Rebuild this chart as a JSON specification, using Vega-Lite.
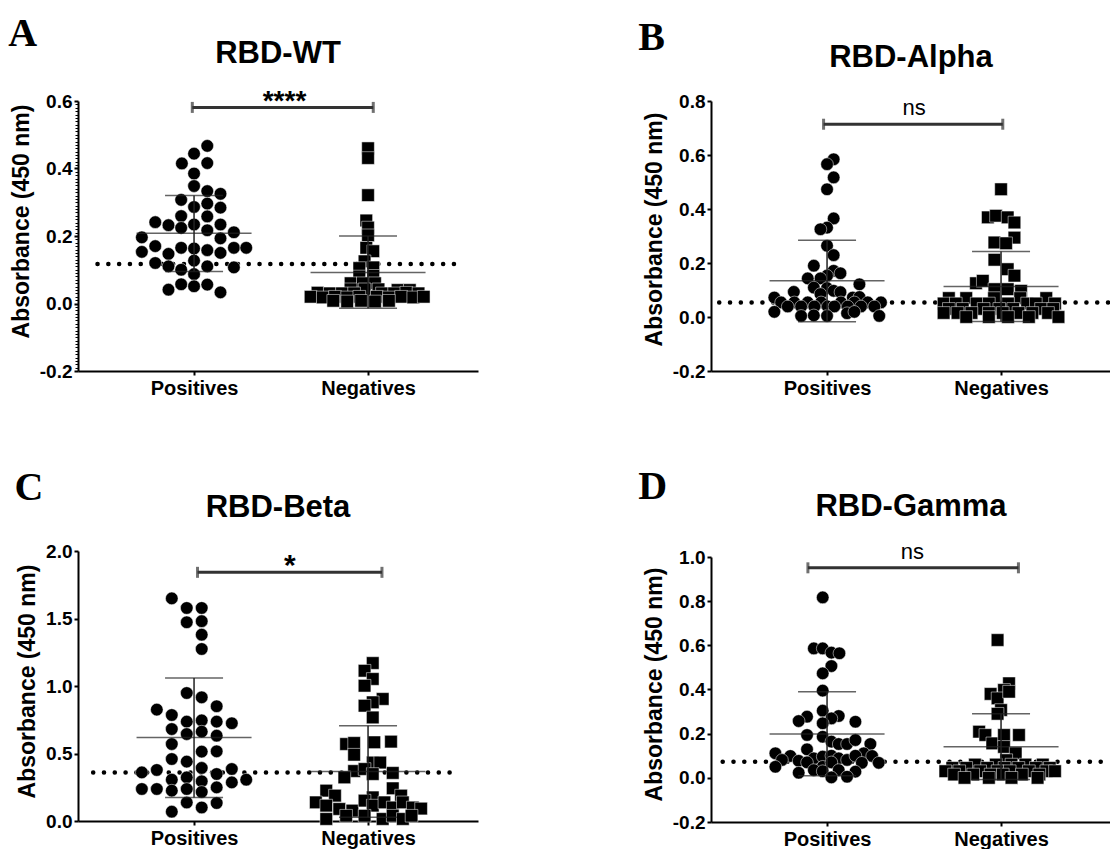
{
"$schema":"https://vega.github.io/schema/vega-lite/v6.json",
"background":"white",
"padding":{"top":14,"left":8,"right":0,"bottom":0},
"config":{"view":{"stroke":null},
"axis":{"domainColor":"black","domainWidth":2,"tickColor":"black","tickWidth":2,"tickSize":4,"labelFont":"Liberation Sans","labelFontSize":19,"labelFontWeight":"bold","labelColor":"black","titleFont":"Liberation Sans","titleFontSize":23,"titleFontWeight":"bold","titleColor":"black","grid":false,"labelPadding":2,"titlePadding":6,"labelFlush":false},
"axisX":{"labelPadding":3,"labelFontSize":20}},
"datasets":{
"pts":[
{"p":"A","g":"P","x":1.076,"y":0.467},{"p":"A","g":"P","x":1.0,"y":0.444},{"p":"A","g":"P","x":0.93,"y":0.415},{"p":"A","g":"P","x":1.076,"y":0.416},{"p":"A","g":"P","x":1.0,"y":0.385},{"p":"A","g":"P","x":1.0,"y":0.348},{"p":"A","g":"P","x":1.076,"y":0.333},{"p":"A","g":"P","x":1.152,"y":0.325},{"p":"A","g":"P","x":0.926,"y":0.307},{"p":"A","g":"P","x":1.076,"y":0.296},{"p":"A","g":"P","x":1.0,"y":0.286},{"p":"A","g":"P","x":1.152,"y":0.284},{"p":"A","g":"P","x":0.926,"y":0.259},{"p":"A","g":"P","x":1.076,"y":0.258},{"p":"A","g":"P","x":0.777,"y":0.241},{"p":"A","g":"P","x":0.853,"y":0.232},{"p":"A","g":"P","x":0.926,"y":0.224},{"p":"A","g":"P","x":1.0,"y":0.234},{"p":"A","g":"P","x":1.152,"y":0.234},{"p":"A","g":"P","x":1.076,"y":0.217},{"p":"A","g":"P","x":1.229,"y":0.211},{"p":"A","g":"P","x":0.70,"y":0.196},{"p":"A","g":"P","x":1.152,"y":0.193},{"p":"A","g":"P","x":0.777,"y":0.170},{"p":"A","g":"P","x":0.926,"y":0.165},{"p":"A","g":"P","x":1.0,"y":0.163},{"p":"A","g":"P","x":1.076,"y":0.158},{"p":"A","g":"P","x":1.229,"y":0.165},{"p":"A","g":"P","x":1.30,"y":0.165},{"p":"A","g":"P","x":0.70,"y":0.153},{"p":"A","g":"P","x":0.853,"y":0.147},{"p":"A","g":"P","x":1.152,"y":0.150},{"p":"A","g":"P","x":1.0,"y":0.127},{"p":"A","g":"P","x":0.777,"y":0.120},{"p":"A","g":"P","x":0.853,"y":0.110},{"p":"A","g":"P","x":1.076,"y":0.110},{"p":"A","g":"P","x":1.229,"y":0.107},{"p":"A","g":"P","x":0.926,"y":0.100},{"p":"A","g":"P","x":1.0,"y":0.087},{"p":"A","g":"P","x":0.926,"y":0.057},{"p":"A","g":"P","x":1.0,"y":0.051},{"p":"A","g":"P","x":1.076,"y":0.056},{"p":"A","g":"P","x":0.853,"y":0.041},{"p":"A","g":"P","x":1.152,"y":0.033},
{"p":"A","g":"N","x":2.0,"y":0.46},{"p":"A","g":"N","x":2.0,"y":0.431},{"p":"A","g":"N","x":2.0,"y":0.321},{"p":"A","g":"N","x":1.99,"y":0.246},{"p":"A","g":"N","x":2.0,"y":0.225},{"p":"A","g":"N","x":2.0,"y":0.202},{"p":"A","g":"N","x":1.99,"y":0.165},{"p":"A","g":"N","x":2.03,"y":0.155},{"p":"A","g":"N","x":1.98,"y":0.125},{"p":"A","g":"N","x":1.95,"y":0.105},{"p":"A","g":"N","x":2.03,"y":0.107},{"p":"A","g":"N","x":1.95,"y":0.08},{"p":"A","g":"N","x":2.03,"y":0.082},{"p":"A","g":"N","x":1.9,"y":0.06},{"p":"A","g":"N","x":1.97,"y":0.06},{"p":"A","g":"N","x":2.04,"y":0.06},
{"p":"A","g":"N","x":1.90,"y":0.042},{"p":"A","g":"N","x":1.98,"y":0.042},{"p":"A","g":"N","x":2.06,"y":0.042},{"p":"A","g":"N","x":2.17,"y":0.04},{"p":"A","g":"N","x":2.24,"y":0.04},
{"p":"A","g":"N","x":1.71,"y":0.032},{"p":"A","g":"N","x":1.78,"y":0.03},{"p":"A","g":"N","x":1.85,"y":0.03},{"p":"A","g":"N","x":1.92,"y":0.03},{"p":"A","g":"N","x":2.08,"y":0.03},{"p":"A","g":"N","x":2.15,"y":0.03},{"p":"A","g":"N","x":2.22,"y":0.032},{"p":"A","g":"N","x":2.29,"y":0.03},
{"p":"A","g":"N","x":1.67,"y":0.02},{"p":"A","g":"N","x":1.74,"y":0.018},{"p":"A","g":"N","x":1.81,"y":0.02},{"p":"A","g":"N","x":1.88,"y":0.018},{"p":"A","g":"N","x":1.95,"y":0.02},{"p":"A","g":"N","x":2.05,"y":0.02},{"p":"A","g":"N","x":2.12,"y":0.018},{"p":"A","g":"N","x":2.19,"y":0.02},{"p":"A","g":"N","x":2.26,"y":0.018},{"p":"A","g":"N","x":2.32,"y":0.02},
{"p":"A","g":"N","x":1.80,"y":0.008},{"p":"A","g":"N","x":1.88,"y":0.006},{"p":"A","g":"N","x":1.96,"y":0.008},{"p":"A","g":"N","x":2.04,"y":0.006},{"p":"A","g":"N","x":2.12,"y":0.008},
{"p":"B","g":"P","x":1.038,"y":0.584},{"p":"B","g":"P","x":1.0,"y":0.566},{"p":"B","g":"P","x":1.038,"y":0.517},{"p":"B","g":"P","x":1.0,"y":0.473},{"p":"B","g":"P","x":1.038,"y":0.365},{"p":"B","g":"P","x":1.0,"y":0.331},{"p":"B","g":"P","x":0.962,"y":0.325},{"p":"B","g":"P","x":1.0,"y":0.264},{"p":"B","g":"P","x":1.038,"y":0.229},{"p":"B","g":"P","x":0.924,"y":0.19},{"p":"B","g":"P","x":1.038,"y":0.171},{"p":"B","g":"P","x":1.077,"y":0.162},{"p":"B","g":"P","x":1.0,"y":0.153},{"p":"B","g":"P","x":0.962,"y":0.143},{"p":"B","g":"P","x":0.889,"y":0.143},{"p":"B","g":"P","x":1.186,"y":0.121},{"p":"B","g":"P","x":0.809,"y":0.093},{"p":"B","g":"P","x":0.924,"y":0.109},{"p":"B","g":"P","x":1.0,"y":0.107},{"p":"B","g":"P","x":1.038,"y":0.097},{"p":"B","g":"P","x":1.077,"y":0.092},{"p":"B","g":"P","x":0.962,"y":0.085},{"p":"B","g":"P","x":1.148,"y":0.072},{"p":"B","g":"P","x":0.697,"y":0.072},{"p":"B","g":"P","x":1.186,"y":0.074},
{"p":"B","g":"P","x":0.736,"y":0.054},{"p":"B","g":"P","x":0.812,"y":0.054},{"p":"B","g":"P","x":0.889,"y":0.054},{"p":"B","g":"P","x":0.966,"y":0.054},{"p":"B","g":"P","x":1.08,"y":0.054},{"p":"B","g":"P","x":1.157,"y":0.054},{"p":"B","g":"P","x":1.234,"y":0.054},{"p":"B","g":"P","x":1.31,"y":0.054},
{"p":"B","g":"P","x":0.774,"y":0.039},{"p":"B","g":"P","x":0.851,"y":0.039},{"p":"B","g":"P","x":0.927,"y":0.039},{"p":"B","g":"P","x":1.004,"y":0.039},{"p":"B","g":"P","x":1.042,"y":0.039},{"p":"B","g":"P","x":1.119,"y":0.039},{"p":"B","g":"P","x":1.195,"y":0.039},{"p":"B","g":"P","x":1.272,"y":0.039},
{"p":"B","g":"P","x":0.697,"y":0.019},{"p":"B","g":"P","x":0.851,"y":0.004},{"p":"B","g":"P","x":0.924,"y":0.006},{"p":"B","g":"P","x":1.0,"y":0.004},{"p":"B","g":"P","x":1.115,"y":0.014},{"p":"B","g":"P","x":1.157,"y":0.019},{"p":"B","g":"P","x":1.30,"y":0.004},
{"p":"B","g":"N","x":2.0,"y":0.473},{"p":"B","g":"N","x":1.924,"y":0.369},{"p":"B","g":"N","x":1.971,"y":0.375},{"p":"B","g":"N","x":2.038,"y":0.369},{"p":"B","g":"N","x":2.077,"y":0.35},{"p":"B","g":"N","x":2.077,"y":0.294},{"p":"B","g":"N","x":1.962,"y":0.276},{"p":"B","g":"N","x":2.029,"y":0.273},{"p":"B","g":"N","x":1.962,"y":0.212},{"p":"B","g":"N","x":2.038,"y":0.177},{"p":"B","g":"N","x":2.077,"y":0.153},{"p":"B","g":"N","x":1.856,"y":0.125},{"p":"B","g":"N","x":1.895,"y":0.134},{"p":"B","g":"N","x":1.962,"y":0.103},{"p":"B","g":"N","x":2.038,"y":0.103},{"p":"B","g":"N","x":2.115,"y":0.097},
{"p":"B","g":"N","x":1.70,"y":0.07},{"p":"B","g":"N","x":1.80,"y":0.07},{"p":"B","g":"N","x":1.96,"y":0.07},{"p":"B","g":"N","x":2.11,"y":0.07},{"p":"B","g":"N","x":2.26,"y":0.07},
{"p":"B","g":"N","x":1.67,"y":0.05},{"p":"B","g":"N","x":1.74,"y":0.05},{"p":"B","g":"N","x":1.86,"y":0.05},{"p":"B","g":"N","x":1.93,"y":0.05},{"p":"B","g":"N","x":2.04,"y":0.05},{"p":"B","g":"N","x":2.15,"y":0.05},{"p":"B","g":"N","x":2.20,"y":0.05},{"p":"B","g":"N","x":2.31,"y":0.05},
{"p":"B","g":"N","x":1.70,"y":0.03},{"p":"B","g":"N","x":1.78,"y":0.03},{"p":"B","g":"N","x":1.90,"y":0.03},{"p":"B","g":"N","x":1.99,"y":0.03},{"p":"B","g":"N","x":2.07,"y":0.03},{"p":"B","g":"N","x":2.23,"y":0.03},{"p":"B","g":"N","x":2.30,"y":0.03},
{"p":"B","g":"N","x":1.67,"y":0.015},{"p":"B","g":"N","x":1.75,"y":0.015},{"p":"B","g":"N","x":1.83,"y":0.015},{"p":"B","g":"N","x":1.93,"y":0.015},{"p":"B","g":"N","x":2.01,"y":0.015},{"p":"B","g":"N","x":2.10,"y":0.015},{"p":"B","g":"N","x":2.18,"y":0.015},{"p":"B","g":"N","x":2.27,"y":0.015},
{"p":"B","g":"N","x":1.80,"y":0.0},{"p":"B","g":"N","x":1.93,"y":0.0},{"p":"B","g":"N","x":2.04,"y":0.0},{"p":"B","g":"N","x":2.16,"y":0.0},{"p":"B","g":"N","x":2.33,"y":0.0},
{"p":"C","g":"P","x":0.872,"y":1.649},{"p":"C","g":"P","x":0.958,"y":1.578},{"p":"C","g":"P","x":1.044,"y":1.578},{"p":"C","g":"P","x":0.958,"y":1.472},{"p":"C","g":"P","x":1.044,"y":1.48},{"p":"C","g":"P","x":1.044,"y":1.38},{"p":"C","g":"P","x":1.044,"y":1.274},{"p":"C","g":"P","x":0.958,"y":0.948},{"p":"C","g":"P","x":1.044,"y":0.916},{"p":"C","g":"P","x":0.786,"y":0.825},{"p":"C","g":"P","x":1.13,"y":0.85},{"p":"C","g":"P","x":0.872,"y":0.785},{"p":"C","g":"P","x":0.958,"y":0.736},{"p":"C","g":"P","x":1.044,"y":0.745},{"p":"C","g":"P","x":1.13,"y":0.736},{"p":"C","g":"P","x":1.217,"y":0.724},{"p":"C","g":"P","x":0.872,"y":0.681},{"p":"C","g":"P","x":0.958,"y":0.644},{"p":"C","g":"P","x":1.044,"y":0.662},{"p":"C","g":"P","x":1.13,"y":0.632},{"p":"C","g":"P","x":0.872,"y":0.57},{"p":"C","g":"P","x":1.044,"y":0.514},{"p":"C","g":"P","x":1.13,"y":0.516},{"p":"C","g":"P","x":0.872,"y":0.459},{"p":"C","g":"P","x":0.958,"y":0.44},{"p":"C","g":"P","x":1.044,"y":0.393},{"p":"C","g":"P","x":0.70,"y":0.36},{"p":"C","g":"P","x":0.786,"y":0.378},{"p":"C","g":"P","x":1.217,"y":0.385},{"p":"C","g":"P","x":0.958,"y":0.323},{"p":"C","g":"P","x":1.13,"y":0.348},{"p":"C","g":"P","x":0.872,"y":0.306},{"p":"C","g":"P","x":1.044,"y":0.294},{"p":"C","g":"P","x":1.217,"y":0.286},{"p":"C","g":"P","x":1.30,"y":0.306},{"p":"C","g":"P","x":0.70,"y":0.237},{"p":"C","g":"P","x":0.786,"y":0.237},{"p":"C","g":"P","x":0.872,"y":0.225},{"p":"C","g":"P","x":0.958,"y":0.237},{"p":"C","g":"P","x":1.13,"y":0.249},{"p":"C","g":"P","x":1.044,"y":0.215},{"p":"C","g":"P","x":0.958,"y":0.137},{"p":"C","g":"P","x":1.044,"y":0.10},{"p":"C","g":"P","x":1.13,"y":0.133},{"p":"C","g":"P","x":0.872,"y":0.069},
{"p":"C","g":"N","x":2.027,"y":1.17},{"p":"C","g":"N","x":1.98,"y":1.113},{"p":"C","g":"N","x":2.027,"y":1.052},{"p":"C","g":"N","x":1.98,"y":1.002},{"p":"C","g":"N","x":2.084,"y":0.904},{"p":"C","g":"N","x":2.027,"y":0.879},{"p":"C","g":"N","x":1.98,"y":0.854},{"p":"C","g":"N","x":2.027,"y":0.767},{"p":"C","g":"N","x":1.874,"y":0.57},{"p":"C","g":"N","x":1.92,"y":0.578},{"p":"C","g":"N","x":1.92,"y":0.491},{"p":"C","g":"N","x":2.036,"y":0.583},{"p":"C","g":"N","x":2.132,"y":0.588},{"p":"C","g":"N","x":2.027,"y":0.433},{"p":"C","g":"N","x":2.07,"y":0.433},{"p":"C","g":"N","x":1.92,"y":0.37},{"p":"C","g":"N","x":1.98,"y":0.385},{"p":"C","g":"N","x":2.027,"y":0.348},{"p":"C","g":"N","x":1.864,"y":0.323},{"p":"C","g":"N","x":2.142,"y":0.356},{"p":"C","g":"N","x":2.142,"y":0.242},{"p":"C","g":"N","x":1.76,"y":0.225},{"p":"C","g":"N","x":1.81,"y":0.188},{"p":"C","g":"N","x":2.027,"y":0.175},{"p":"C","g":"N","x":2.19,"y":0.188},{"p":"C","g":"N","x":1.70,"y":0.138},{"p":"C","g":"N","x":1.76,"y":0.114},{"p":"C","g":"N","x":1.835,"y":0.089},{"p":"C","g":"N","x":1.91,"y":0.077},{"p":"C","g":"N","x":1.98,"y":0.151},{"p":"C","g":"N","x":2.027,"y":0.114},{"p":"C","g":"N","x":2.094,"y":0.138},{"p":"C","g":"N","x":2.142,"y":0.10},{"p":"C","g":"N","x":2.2,"y":0.138},{"p":"C","g":"N","x":2.257,"y":0.10},{"p":"C","g":"N","x":2.305,"y":0.092},{"p":"C","g":"N","x":1.76,"y":0.015},{"p":"C","g":"N","x":1.98,"y":0.039},{"p":"C","g":"N","x":2.084,"y":0.015},{"p":"C","g":"N","x":2.142,"y":0.039},{"p":"C","g":"N","x":2.2,"y":0.015},{"p":"C","g":"N","x":2.25,"y":0.039},{"p":"C","g":"N","x":1.874,"y":0.039},
{"p":"D","g":"P","x":0.975,"y":0.817},{"p":"D","g":"P","x":0.924,"y":0.586},{"p":"D","g":"P","x":0.975,"y":0.586},{"p":"D","g":"P","x":1.025,"y":0.567},{"p":"D","g":"P","x":1.071,"y":0.564},{"p":"D","g":"P","x":1.025,"y":0.506},{"p":"D","g":"P","x":0.975,"y":0.473},{"p":"D","g":"P","x":0.975,"y":0.395},{"p":"D","g":"P","x":0.975,"y":0.304},{"p":"D","g":"P","x":0.885,"y":0.277},{"p":"D","g":"P","x":1.067,"y":0.28},{"p":"D","g":"P","x":0.837,"y":0.257},{"p":"D","g":"P","x":1.025,"y":0.269},{"p":"D","g":"P","x":0.975,"y":0.247},{"p":"D","g":"P","x":1.163,"y":0.254},{"p":"D","g":"P","x":0.885,"y":0.194},{"p":"D","g":"P","x":0.975,"y":0.186},{"p":"D","g":"P","x":1.025,"y":0.164},{"p":"D","g":"P","x":1.067,"y":0.153},{"p":"D","g":"P","x":1.115,"y":0.153},{"p":"D","g":"P","x":1.163,"y":0.171},{"p":"D","g":"P","x":1.249,"y":0.153},{"p":"D","g":"P","x":0.885,"y":0.129},{"p":"D","g":"P","x":0.703,"y":0.111},{"p":"D","g":"P","x":0.789,"y":0.099},{"p":"D","g":"P","x":1.211,"y":0.111},{"p":"D","g":"P","x":1.259,"y":0.099},{"p":"D","g":"P","x":0.741,"y":0.081},{"p":"D","g":"P","x":0.837,"y":0.077},{"p":"D","g":"P","x":0.924,"y":0.088},{"p":"D","g":"P","x":0.975,"y":0.096},{"p":"D","g":"P","x":1.025,"y":0.1},{"p":"D","g":"P","x":1.067,"y":0.088},{"p":"D","g":"P","x":1.115,"y":0.081},{"p":"D","g":"P","x":1.163,"y":0.1},{"p":"D","g":"P","x":1.297,"y":0.068},{"p":"D","g":"P","x":0.703,"y":0.05},{"p":"D","g":"P","x":0.885,"y":0.07},{"p":"D","g":"P","x":0.975,"y":0.05},{"p":"D","g":"P","x":1.025,"y":0.07},{"p":"D","g":"P","x":1.2,"y":0.068},{"p":"D","g":"P","x":0.837,"y":0.023},{"p":"D","g":"P","x":0.924,"y":0.035},{"p":"D","g":"P","x":0.975,"y":0.03},{"p":"D","g":"P","x":1.067,"y":0.035},{"p":"D","g":"P","x":1.163,"y":0.028},{"p":"D","g":"P","x":1.025,"y":0.002},{"p":"D","g":"P","x":1.115,"y":0.005},
{"p":"D","g":"N","x":1.98,"y":0.624},{"p":"D","g":"N","x":2.046,"y":0.428},{"p":"D","g":"N","x":2.017,"y":0.398},{"p":"D","g":"N","x":1.94,"y":0.38},{"p":"D","g":"N","x":1.98,"y":0.36},{"p":"D","g":"N","x":2.046,"y":0.39},{"p":"D","g":"N","x":2.0,"y":0.307},{"p":"D","g":"N","x":1.98,"y":0.29},{"p":"D","g":"N","x":1.874,"y":0.209},{"p":"D","g":"N","x":1.91,"y":0.194},{"p":"D","g":"N","x":1.95,"y":0.156},{"p":"D","g":"N","x":2.017,"y":0.194},{"p":"D","g":"N","x":2.017,"y":0.14},{"p":"D","g":"N","x":2.103,"y":0.194},{"p":"D","g":"N","x":2.084,"y":0.111},{"p":"D","g":"N","x":2.03,"y":0.08},
{"p":"D","g":"N","x":1.85,"y":0.06},{"p":"D","g":"N","x":1.97,"y":0.06},{"p":"D","g":"N","x":2.06,"y":0.06},{"p":"D","g":"N","x":2.14,"y":0.06},{"p":"D","g":"N","x":2.24,"y":0.06},
{"p":"D","g":"N","x":1.72,"y":0.045},{"p":"D","g":"N","x":1.80,"y":0.045},{"p":"D","g":"N","x":1.92,"y":0.045},{"p":"D","g":"N","x":2.02,"y":0.045},{"p":"D","g":"N","x":2.10,"y":0.045},{"p":"D","g":"N","x":2.20,"y":0.045},{"p":"D","g":"N","x":2.28,"y":0.045},
{"p":"D","g":"N","x":1.68,"y":0.03},{"p":"D","g":"N","x":1.76,"y":0.03},{"p":"D","g":"N","x":1.88,"y":0.03},{"p":"D","g":"N","x":1.98,"y":0.03},{"p":"D","g":"N","x":2.05,"y":0.03},{"p":"D","g":"N","x":2.16,"y":0.03},{"p":"D","g":"N","x":2.26,"y":0.03},{"p":"D","g":"N","x":2.31,"y":0.03},
{"p":"D","g":"N","x":1.73,"y":0.015},{"p":"D","g":"N","x":1.84,"y":0.015},{"p":"D","g":"N","x":1.94,"y":0.015},{"p":"D","g":"N","x":2.01,"y":0.015},{"p":"D","g":"N","x":2.12,"y":0.015},{"p":"D","g":"N","x":2.22,"y":0.015},
{"p":"D","g":"N","x":1.79,"y":0.0},{"p":"D","g":"N","x":1.93,"y":0.0},{"p":"D","g":"N","x":2.06,"y":0.0},{"p":"D","g":"N","x":2.21,"y":0.0}
],
"stats":[
{"p":"A","x":1,"m":0.208,"lo":0.095,"hi":0.32},{"p":"A","x":2,"m":0.092,"lo":-0.014,"hi":0.2},
{"p":"B","x":1,"m":0.134,"lo":-0.018,"hi":0.284},{"p":"B","x":2,"m":0.113,"lo":-0.017,"hi":0.243},
{"p":"C","x":1,"m":0.619,"lo":0.175,"hi":1.06},{"p":"C","x":2,"m":0.367,"lo":0.028,"hi":0.706},
{"p":"D","x":1,"m":0.198,"lo":0.01,"hi":0.39},{"p":"D","x":2,"m":0.141,"lo":-0.008,"hi":0.29}
],
"cut":[
{"p":"A","y":0.117,"x1":0.445,"x2":2.52},{"p":"B","y":0.054,"x1":0.38,"x2":2.62},{"p":"C","y":0.36,"x1":0.42,"x2":2.52},{"p":"D","y":0.073,"x1":0.40,"x2":2.62}
],
"sig":[
{"p":"A","x1":0.99,"x2":2.03,"y":0.581,"xt":1.52,"t":"****"},{"p":"B","x1":0.98,"x2":2.01,"y":0.714,"xt":1.5,"t":"ns"},{"p":"C","x1":1.02,"x2":2.08,"y":1.842,"xt":1.55,"t":"*"},{"p":"D","x1":0.89,"x2":2.10,"y":0.951,"xt":1.49,"t":"ns"}
]
},
"spacing":160,
"hconcat":[
{"spacing":70,"vconcat":[
{"title":{"text":"A","anchor":"start","frame":"bounds","font":"Liberation Serif","fontSize":40,"fontWeight":"bold","color":"black","offset":0,"dx":-2,"dy":16},
"vconcat":[{"width":400,"height":270,
"title":{"text":"RBD-WT","frame":"group","anchor":"middle","font":"Liberation Sans","fontSize":31,"fontWeight":"bold","color":"black","offset":18},
"resolve":{"axis":{"y":"independent"}},
"layer":[
{"data":{"name":"cut"},"transform":[{"filter":"datum.p==='A'"}],"mark":{"type":"rule","color":"black","strokeWidth":4.5,"strokeCap":"round","strokeDash":[0.1,10.7]},
"encoding":{"x":{"field":"x1","type":"quantitative","scale":{"domain":[0.333,2.632],"nice":false,"zero":false},"axis":{"values":[1,2],"labelExpr":"datum.value==1?'Positives':'Negatives'","title":null}},"x2":{"field":"x2"},
"y":{"field":"y","type":"quantitative","scale":{"domain":[-0.2,0.6],"nice":false,"zero":false},"axis":{"orient":"left","values":[-0.19,-0.18,-0.17,-0.16,-0.15,-0.14,-0.13,-0.12,-0.11,-0.1,-0.09,-0.08,-0.07,-0.06,-0.05,-0.04,-0.03,-0.02,-0.01,0.01,0.02,0.03,0.04,0.05,0.06,0.07,0.08,0.09,0.1,0.11,0.12,0.13,0.14,0.15,0.16,0.17,0.18,0.19,0.21,0.22,0.23,0.24,0.25,0.26,0.27,0.28,0.29,0.3,0.31,0.32,0.33,0.34,0.35,0.36,0.37,0.38,0.39,0.41,0.42,0.43,0.44,0.45,0.46,0.47,0.48,0.49,0.5,0.51,0.52,0.53,0.54,0.55,0.56,0.57,0.58,0.59],"labels":false,"domain":false,"ticks":true,"tickColor":"black","tickSize":3,"tickWidth":1,"title":null}}}},
{"data":{"name":"pts"},"transform":[{"filter":"datum.p==='A'"}],"mark":{"type":"point","filled":true,"size":160,"color":"black","opacity":1,"stroke":"white","strokeWidth":0.5},
"encoding":{"x":{"field":"x","type":"quantitative"},"y":{"field":"y","type":"quantitative","axis":{"orient":"left","values":[-0.2,0,0.2,0.4,0.6],"labelExpr":"datum.value<0?'-'+format(-datum.value,'.1f'):format(datum.value,'.1f')","title":"Absorbance (450 nm)","titleY":120}},
"shape":{"field":"g","type":"nominal","scale":{"domain":["P","N"],"range":["circle","square"]},"legend":null}}},
{"data":{"name":"stats"},"transform":[{"filter":"datum.p==='A'"}],"mark":{"type":"tick","orient":"horizontal","size":115,"thickness":1.5,"color":"#222"},"encoding":{"x":{"field":"x","type":"quantitative"},"y":{"field":"m","type":"quantitative","axis":null}}},
{"data":{"name":"stats"},"transform":[{"filter":"datum.p==='A'"}],"mark":{"type":"tick","orient":"horizontal","size":58,"thickness":1.5,"color":"#222"},"encoding":{"x":{"field":"x","type":"quantitative"},"y":{"field":"lo","type":"quantitative","axis":null}}},
{"data":{"name":"stats"},"transform":[{"filter":"datum.p==='A'"}],"mark":{"type":"tick","orient":"horizontal","size":58,"thickness":1.5,"color":"#222"},"encoding":{"x":{"field":"x","type":"quantitative"},"y":{"field":"hi","type":"quantitative","axis":null}}},
{"data":{"name":"stats"},"transform":[{"filter":"datum.p==='A'"}],"mark":{"type":"rule","strokeWidth":1.5,"color":"#222"},"encoding":{"x":{"field":"x","type":"quantitative"},"y":{"field":"lo","type":"quantitative","axis":null},"y2":{"field":"hi"}}},
{"data":{"name":"sig"},"transform":[{"filter":"datum.p==='A'"}],"mark":{"type":"rule","strokeWidth":3,"color":"#333"},"encoding":{"x":{"field":"x1","type":"quantitative"},"x2":{"field":"x2"},"y":{"field":"y","type":"quantitative","axis":null}}},
{"data":{"name":"sig"},"transform":[{"filter":"datum.p==='A'"}],"mark":{"type":"tick","orient":"vertical","size":11,"thickness":3,"color":"#333"},"encoding":{"x":{"field":"x1","type":"quantitative"},"y":{"field":"y","type":"quantitative","axis":null}}},
{"data":{"name":"sig"},"transform":[{"filter":"datum.p==='A'"}],"mark":{"type":"tick","orient":"vertical","size":11,"thickness":3,"color":"#333"},"encoding":{"x":{"field":"x2","type":"quantitative"},"y":{"field":"y","type":"quantitative","axis":null}}},
{"data":{"name":"sig"},"transform":[{"filter":"datum.p==='A'"}],"mark":{"type":"text","font":"Liberation Sans","fontSize":28,"fontWeight":"bold","color":"black","baseline":"alphabetic","dy":3},"encoding":{"x":{"field":"xt","type":"quantitative"},"y":{"field":"y","type":"quantitative","axis":null},"text":{"field":"t"}}}
]}]},
{"title":{"text":"C","anchor":"start","frame":"bounds","font":"Liberation Serif","fontSize":40,"fontWeight":"bold","color":"black","offset":0,"dx":-2,"dy":16},
"vconcat":[{"width":400,"height":270,
"title":{"text":"RBD-Beta","frame":"group","anchor":"middle","font":"Liberation Sans","fontSize":31,"fontWeight":"bold","color":"black","offset":18},
"layer":[
{"data":{"name":"cut"},"transform":[{"filter":"datum.p==='C'"}],"mark":{"type":"rule","color":"black","strokeWidth":4.5,"strokeCap":"round","strokeDash":[0.1,10.7]},
"encoding":{"x":{"field":"x1","type":"quantitative","scale":{"domain":[0.333,2.632],"nice":false,"zero":false},"axis":{"values":[1,2],"labelExpr":"datum.value==1?'Positives':'Negatives'","title":null}},"x2":{"field":"x2"},
"y":{"field":"y","type":"quantitative","scale":{"domain":[0,2.0],"nice":false,"zero":false}}}},
{"data":{"name":"pts"},"transform":[{"filter":"datum.p==='C'"}],"mark":{"type":"point","filled":true,"size":160,"color":"black","opacity":1,"stroke":"white","strokeWidth":0.5},
"encoding":{"x":{"field":"x","type":"quantitative"},"y":{"field":"y","type":"quantitative","axis":{"values":[0,0.5,1,1.5,2],"format":".1f","title":"Absorbance (450 nm)","titleY":130}},
"shape":{"field":"g","type":"nominal","scale":{"domain":["P","N"],"range":["circle","square"]},"legend":null}}},
{"data":{"name":"stats"},"transform":[{"filter":"datum.p==='C'"}],"mark":{"type":"tick","orient":"horizontal","size":115,"thickness":1.5,"color":"#222"},"encoding":{"x":{"field":"x","type":"quantitative"},"y":{"field":"m","type":"quantitative"}}},
{"data":{"name":"stats"},"transform":[{"filter":"datum.p==='C'"}],"mark":{"type":"tick","orient":"horizontal","size":58,"thickness":1.5,"color":"#222"},"encoding":{"x":{"field":"x","type":"quantitative"},"y":{"field":"lo","type":"quantitative"}}},
{"data":{"name":"stats"},"transform":[{"filter":"datum.p==='C'"}],"mark":{"type":"tick","orient":"horizontal","size":58,"thickness":1.5,"color":"#222"},"encoding":{"x":{"field":"x","type":"quantitative"},"y":{"field":"hi","type":"quantitative"}}},
{"data":{"name":"stats"},"transform":[{"filter":"datum.p==='C'"}],"mark":{"type":"rule","strokeWidth":1.5,"color":"#222"},"encoding":{"x":{"field":"x","type":"quantitative"},"y":{"field":"lo","type":"quantitative"},"y2":{"field":"hi"}}},
{"data":{"name":"sig"},"transform":[{"filter":"datum.p==='C'"}],"mark":{"type":"rule","strokeWidth":3,"color":"#333"},"encoding":{"x":{"field":"x1","type":"quantitative"},"x2":{"field":"x2"},"y":{"field":"y","type":"quantitative"}}},
{"data":{"name":"sig"},"transform":[{"filter":"datum.p==='C'"}],"mark":{"type":"tick","orient":"vertical","size":11,"thickness":3,"color":"#333"},"encoding":{"x":{"field":"x1","type":"quantitative"},"y":{"field":"y","type":"quantitative"}}},
{"data":{"name":"sig"},"transform":[{"filter":"datum.p==='C'"}],"mark":{"type":"tick","orient":"vertical","size":11,"thickness":3,"color":"#333"},"encoding":{"x":{"field":"x2","type":"quantitative"},"y":{"field":"y","type":"quantitative"}}},
{"data":{"name":"sig"},"transform":[{"filter":"datum.p==='C'"}],"mark":{"type":"text","font":"Liberation Sans","fontSize":30,"fontWeight":"bold","color":"black","baseline":"alphabetic","dy":3},"encoding":{"x":{"field":"xt","type":"quantitative"},"y":{"field":"y","type":"quantitative"},"text":{"field":"t"}}}
]}]}
]},
{"spacing":68,"vconcat":[
{"title":{"text":"B","anchor":"start","frame":"bounds","font":"Liberation Serif","fontSize":40,"fontWeight":"bold","color":"black","offset":0,"dx":-5,"dy":16},
"vconcat":[{"width":400,"height":270,
"title":{"text":"RBD-Alpha","frame":"group","anchor":"middle","font":"Liberation Sans","fontSize":31,"fontWeight":"bold","color":"black","offset":18},
"layer":[
{"data":{"name":"cut"},"transform":[{"filter":"datum.p==='B'"}],"mark":{"type":"rule","color":"black","strokeWidth":4.5,"strokeCap":"round","strokeDash":[0.1,10.7]},
"encoding":{"x":{"field":"x1","type":"quantitative","scale":{"domain":[0.333,2.632],"nice":false,"zero":false},"axis":{"values":[1,2],"labelExpr":"datum.value==1?'Positives':'Negatives'","title":null}},"x2":{"field":"x2"},
"y":{"field":"y","type":"quantitative","scale":{"domain":[-0.2,0.8],"nice":false,"zero":false}}}},
{"data":{"name":"pts"},"transform":[{"filter":"datum.p==='B'"}],"mark":{"type":"point","filled":true,"size":160,"color":"black","opacity":1,"stroke":"white","strokeWidth":0.5},
"encoding":{"x":{"field":"x","type":"quantitative"},"y":{"field":"y","type":"quantitative","axis":{"values":[-0.2,0,0.2,0.4,0.6,0.8],"labelExpr":"datum.value<0?'-'+format(-datum.value,'.1f'):format(datum.value,'.1f')","title":"Absorbance (450 nm)","titleY":128}},
"shape":{"field":"g","type":"nominal","scale":{"domain":["P","N"],"range":["circle","square"]},"legend":null}}},
{"data":{"name":"stats"},"transform":[{"filter":"datum.p==='B'"}],"mark":{"type":"tick","orient":"horizontal","size":115,"thickness":1.5,"color":"#222"},"encoding":{"x":{"field":"x","type":"quantitative"},"y":{"field":"m","type":"quantitative"}}},
{"data":{"name":"stats"},"transform":[{"filter":"datum.p==='B'"}],"mark":{"type":"tick","orient":"horizontal","size":58,"thickness":1.5,"color":"#222"},"encoding":{"x":{"field":"x","type":"quantitative"},"y":{"field":"lo","type":"quantitative"}}},
{"data":{"name":"stats"},"transform":[{"filter":"datum.p==='B'"}],"mark":{"type":"tick","orient":"horizontal","size":58,"thickness":1.5,"color":"#222"},"encoding":{"x":{"field":"x","type":"quantitative"},"y":{"field":"hi","type":"quantitative"}}},
{"data":{"name":"stats"},"transform":[{"filter":"datum.p==='B'"}],"mark":{"type":"rule","strokeWidth":1.5,"color":"#222"},"encoding":{"x":{"field":"x","type":"quantitative"},"y":{"field":"lo","type":"quantitative"},"y2":{"field":"hi"}}},
{"data":{"name":"sig"},"transform":[{"filter":"datum.p==='B'"}],"mark":{"type":"rule","strokeWidth":3,"color":"#333"},"encoding":{"x":{"field":"x1","type":"quantitative"},"x2":{"field":"x2"},"y":{"field":"y","type":"quantitative"}}},
{"data":{"name":"sig"},"transform":[{"filter":"datum.p==='B'"}],"mark":{"type":"tick","orient":"vertical","size":11,"thickness":3,"color":"#333"},"encoding":{"x":{"field":"x1","type":"quantitative"},"y":{"field":"y","type":"quantitative"}}},
{"data":{"name":"sig"},"transform":[{"filter":"datum.p==='B'"}],"mark":{"type":"tick","orient":"vertical","size":11,"thickness":3,"color":"#333"},"encoding":{"x":{"field":"x2","type":"quantitative"},"y":{"field":"y","type":"quantitative"}}},
{"data":{"name":"sig"},"transform":[{"filter":"datum.p==='B'"}],"mark":{"type":"text","font":"Liberation Sans","fontSize":22,"color":"black","baseline":"alphabetic","dy":-9},"encoding":{"x":{"field":"xt","type":"quantitative"},"y":{"field":"y","type":"quantitative"},"text":{"field":"t"}}}
]}]},
{"title":{"text":"D","anchor":"start","frame":"bounds","font":"Liberation Serif","fontSize":40,"fontWeight":"bold","color":"black","offset":0,"dx":-5,"dy":16},
"vconcat":[{"width":400,"height":265,
"title":{"text":"RBD-Gamma","frame":"group","anchor":"middle","font":"Liberation Sans","fontSize":31,"fontWeight":"bold","color":"black","offset":18},
"layer":[
{"data":{"name":"cut"},"transform":[{"filter":"datum.p==='D'"}],"mark":{"type":"rule","color":"black","strokeWidth":4.5,"strokeCap":"round","strokeDash":[0.1,10.7]},
"encoding":{"x":{"field":"x1","type":"quantitative","scale":{"domain":[0.333,2.632],"nice":false,"zero":false},"axis":{"values":[1,2],"labelExpr":"datum.value==1?'Positives':'Negatives'","title":null}},"x2":{"field":"x2"},
"y":{"field":"y","type":"quantitative","scale":{"domain":[-0.2,1.0],"nice":false,"zero":false}}}},
{"data":{"name":"pts"},"transform":[{"filter":"datum.p==='D'"}],"mark":{"type":"point","filled":true,"size":160,"color":"black","opacity":1,"stroke":"white","strokeWidth":0.5},
"encoding":{"x":{"field":"x","type":"quantitative"},"y":{"field":"y","type":"quantitative","axis":{"values":[-0.2,0,0.2,0.4,0.6,0.8,1.0],"labelExpr":"datum.value<0?'-'+format(-datum.value,'.1f'):format(datum.value,'.1f')","title":"Absorbance (450 nm)","titleY":127}},
"shape":{"field":"g","type":"nominal","scale":{"domain":["P","N"],"range":["circle","square"]},"legend":null}}},
{"data":{"name":"stats"},"transform":[{"filter":"datum.p==='D'"}],"mark":{"type":"tick","orient":"horizontal","size":115,"thickness":1.5,"color":"#222"},"encoding":{"x":{"field":"x","type":"quantitative"},"y":{"field":"m","type":"quantitative"}}},
{"data":{"name":"stats"},"transform":[{"filter":"datum.p==='D'"}],"mark":{"type":"tick","orient":"horizontal","size":58,"thickness":1.5,"color":"#222"},"encoding":{"x":{"field":"x","type":"quantitative"},"y":{"field":"lo","type":"quantitative"}}},
{"data":{"name":"stats"},"transform":[{"filter":"datum.p==='D'"}],"mark":{"type":"tick","orient":"horizontal","size":58,"thickness":1.5,"color":"#222"},"encoding":{"x":{"field":"x","type":"quantitative"},"y":{"field":"hi","type":"quantitative"}}},
{"data":{"name":"stats"},"transform":[{"filter":"datum.p==='D'"}],"mark":{"type":"rule","strokeWidth":1.5,"color":"#222"},"encoding":{"x":{"field":"x","type":"quantitative"},"y":{"field":"lo","type":"quantitative"},"y2":{"field":"hi"}}},
{"data":{"name":"sig"},"transform":[{"filter":"datum.p==='D'"}],"mark":{"type":"rule","strokeWidth":3,"color":"#333"},"encoding":{"x":{"field":"x1","type":"quantitative"},"x2":{"field":"x2"},"y":{"field":"y","type":"quantitative"}}},
{"data":{"name":"sig"},"transform":[{"filter":"datum.p==='D'"}],"mark":{"type":"tick","orient":"vertical","size":11,"thickness":3,"color":"#333"},"encoding":{"x":{"field":"x1","type":"quantitative"},"y":{"field":"y","type":"quantitative"}}},
{"data":{"name":"sig"},"transform":[{"filter":"datum.p==='D'"}],"mark":{"type":"tick","orient":"vertical","size":11,"thickness":3,"color":"#333"},"encoding":{"x":{"field":"x2","type":"quantitative"},"y":{"field":"y","type":"quantitative"}}},
{"data":{"name":"sig"},"transform":[{"filter":"datum.p==='D'"}],"mark":{"type":"text","font":"Liberation Sans","fontSize":22,"color":"black","baseline":"alphabetic","dy":-9},"encoding":{"x":{"field":"xt","type":"quantitative"},"y":{"field":"y","type":"quantitative"},"text":{"field":"t"}}}
]}]}
]}
]
}
